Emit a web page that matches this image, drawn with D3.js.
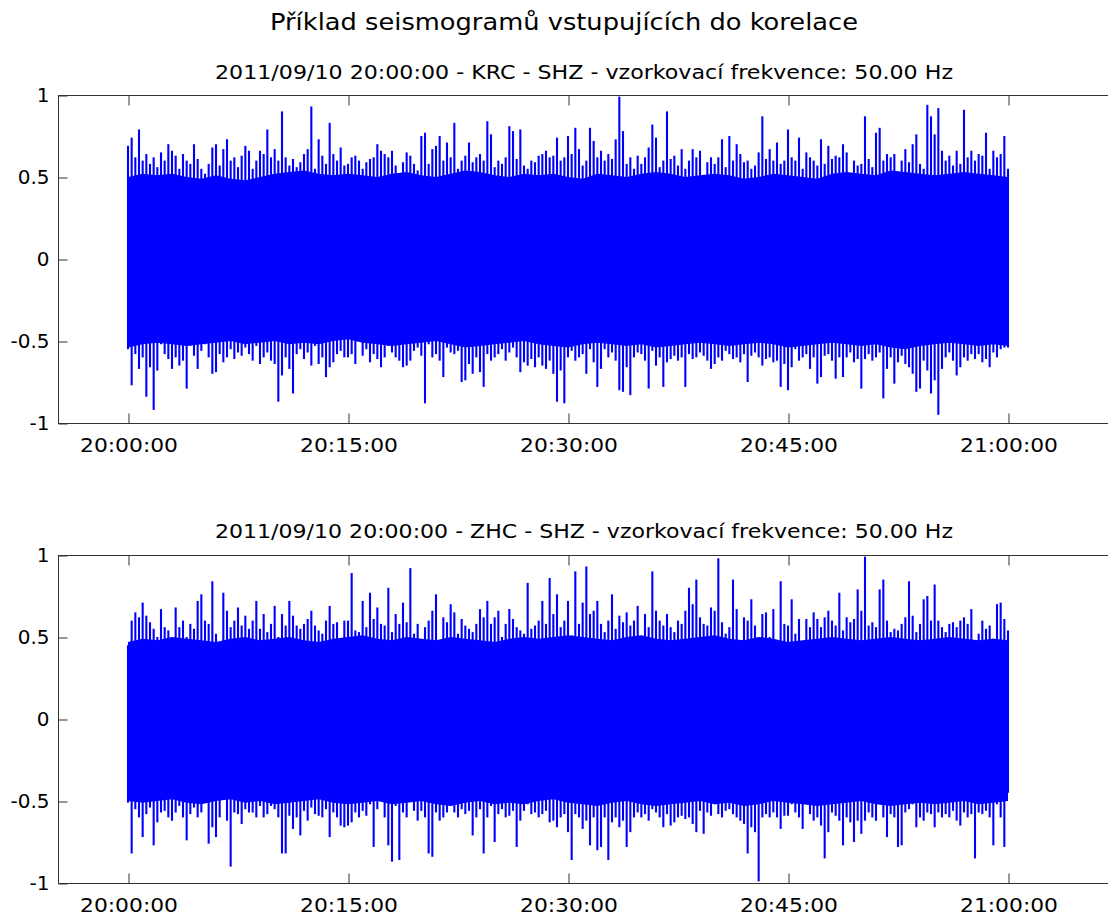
<!DOCTYPE html>
<html>
<head>
<meta charset="utf-8">
<script src="https://cdn.jsdelivr.net/npm/d3@7"></script>
<style>
  body { margin: 0; background: #fff; }
  svg { display: block; }
  text { font-family: "DejaVu Sans", Verdana, sans-serif; fill: #000; }
</style>
</head>
<body>
<svg id="chart" width="1108" height="917"></svg>
<script>
// ---- texts ----
const mainTitle = "Příklad seismogramů vstupujících do korelace";
const titleKRC = "2011/09/10 20:00:00 - KRC - SHZ - vzorkovací frekvence: 50.00 Hz";
const titleZHC = "2011/09/10 20:00:00 - ZHC - SHZ - vzorkovací frekvence: 50.00 Hz";

// ---- ticks ----
const xTickMinutes = [0, 15, 30, 45, 60];
const xTickLabels = ["20:00:00", "20:15:00", "20:30:00", "20:45:00", "21:00:00"];
const yTickValues = [1, 0.5, 0, -0.5, -1];
const yTickLabels = ["1", "0.5", "0", "-0.5", "-1"];

// ---- record timing ----
const recordStart = new Date(2011, 8, 10, 20, 0, 0);
const recordEnd = new Date(2011, 8, 10, 21, 0, 0);
const peakStepSeconds = 15;   // one peak pair per 15 s window
const coreStepSeconds = 60;   // one envelope pair per minute

// ---- KRC: per-window positive / negative peaks (normalised amplitude) ----
const krcPeakUp = [
  0.69,0.74,0.62,0.79,0.60,0.64,0.58,0.62,0.56,0.65,0.60,0.70,0.66,0.63,0.55,0.64,0.60,0.58,0.70,0.61,
  0.55,0.52,0.58,0.68,0.70,0.57,0.67,0.73,0.60,0.62,0.56,0.63,0.69,0.66,0.55,0.60,0.66,0.64,0.79,0.62,
  0.67,0.60,0.90,0.62,0.57,0.61,0.56,0.59,0.64,0.67,0.93,0.55,0.73,0.63,0.58,0.83,0.64,0.60,0.68,0.57,
  0.58,0.62,0.63,0.60,0.55,0.59,0.61,0.62,0.70,0.66,0.64,0.62,0.66,0.57,0.52,0.59,0.65,0.63,0.58,0.54,
  0.75,0.77,0.58,0.67,0.69,0.75,0.60,0.71,0.62,0.83,0.55,0.60,0.63,0.71,0.59,0.62,0.64,0.60,0.84,0.76,
  0.56,0.60,0.58,0.62,0.81,0.78,0.61,0.79,0.57,0.55,0.60,0.59,0.63,0.64,0.66,0.62,0.63,0.74,0.60,0.62,
  0.75,0.64,0.80,0.67,0.57,0.60,0.80,0.72,0.62,0.66,0.60,0.64,0.61,0.73,0.99,0.78,0.58,0.62,0.55,0.63,
  0.58,0.62,0.68,0.82,0.74,0.56,0.60,0.90,0.61,0.63,0.57,0.67,0.55,0.60,0.67,0.62,0.66,0.50,0.59,0.62,
  0.58,0.62,0.73,0.56,0.75,0.60,0.70,0.64,0.59,0.60,0.55,0.57,0.65,0.87,0.61,0.67,0.60,0.71,0.58,0.60,
  0.79,0.62,0.60,0.74,0.55,0.65,0.62,0.60,0.57,0.73,0.58,0.69,0.61,0.63,0.62,0.70,0.65,0.52,0.60,0.57,
  0.58,0.87,0.61,0.56,0.77,0.80,0.60,0.64,0.62,0.64,0.53,0.60,0.67,0.59,0.70,0.76,0.58,0.55,0.94,0.87,
  0.76,0.92,0.66,0.60,0.63,0.57,0.66,0.58,0.91,0.62,0.66,0.60,0.64,0.63,0.77,0.55,0.66,0.62,0.64,0.75,0.55
];
const krcPeakDown = [
  -0.55,-0.77,-0.58,-0.67,-0.60,-0.84,-0.66,-0.92,-0.68,-0.52,-0.58,-0.61,-0.67,-0.60,-0.65,-0.62,-0.79,-0.53,-0.59,-0.67,
  -0.56,-0.52,-0.60,-0.70,-0.69,-0.58,-0.63,-0.60,-0.55,-0.61,-0.57,-0.59,-0.54,-0.58,-0.62,-0.53,-0.64,-0.60,-0.57,-0.62,
  -0.64,-0.87,-0.71,-0.60,-0.67,-0.82,-0.58,-0.55,-0.61,-0.57,-0.65,-0.53,-0.64,-0.60,-0.72,-0.66,-0.63,-0.58,-0.56,-0.60,
  -0.60,-0.58,-0.64,-0.50,-0.59,-0.55,-0.63,-0.58,-0.61,-0.66,-0.60,-0.53,-0.57,-0.60,-0.62,-0.66,-0.65,-0.62,-0.56,-0.54,
  -0.59,-0.88,-0.52,-0.60,-0.58,-0.62,-0.72,-0.54,-0.57,-0.58,-0.56,-0.75,-0.74,-0.64,-0.70,-0.60,-0.69,-0.78,-0.58,-0.62,
  -0.60,-0.58,-0.55,-0.62,-0.57,-0.54,-0.60,-0.69,-0.63,-0.65,-0.61,-0.66,-0.60,-0.65,-0.67,-0.62,-0.70,-0.87,-0.68,-0.88,
  -0.60,-0.56,-0.62,-0.60,-0.58,-0.70,-0.55,-0.63,-0.78,-0.67,-0.55,-0.60,-0.57,-0.62,-0.80,-0.81,-0.66,-0.83,-0.60,-0.57,
  -0.58,-0.62,-0.79,-0.56,-0.65,-0.60,-0.78,-0.63,-0.61,-0.59,-0.62,-0.60,-0.78,-0.58,-0.61,-0.60,-0.57,-0.59,-0.62,-0.67,
  -0.64,-0.60,-0.62,-0.56,-0.58,-0.61,-0.60,-0.63,-0.58,-0.75,-0.59,-0.57,-0.60,-0.65,-0.61,-0.60,-0.63,-0.62,-0.78,-0.64,
  -0.80,-0.66,-0.55,-0.62,-0.60,-0.58,-0.67,-0.60,-0.76,-0.72,-0.59,-0.58,-0.62,-0.73,-0.60,-0.72,-0.60,-0.57,-0.63,-0.61,
  -0.79,-0.61,-0.58,-0.62,-0.60,-0.57,-0.85,-0.67,-0.60,-0.76,-0.63,-0.59,-0.64,-0.66,-0.70,-0.81,-0.79,-0.62,-0.68,-0.82,
  -0.74,-0.95,-0.67,-0.60,-0.57,-0.62,-0.71,-0.66,-0.60,-0.62,-0.58,-0.61,-0.58,-0.63,-0.61,-0.66,-0.57,-0.60,-0.55,-0.54,-0.54
];
// KRC: per-minute envelope of the dense background noise
const krcCoreUp = [
  0.50,0.52,0.51,0.52,0.50,0.49,0.51,0.49,0.48,0.50,0.52,0.53,0.54,0.52,0.51,0.52,0.51,0.50,0.52,0.53,
  0.51,0.50,0.52,0.54,0.53,0.51,0.50,0.52,0.51,0.52,0.50,0.49,0.52,0.51,0.50,0.52,0.53,0.52,0.50,0.51,
  0.52,0.51,0.49,0.50,0.52,0.51,0.50,0.49,0.52,0.53,0.52,0.51,0.54,0.53,0.52,0.51,0.52,0.53,0.52,0.51,0.50
];
const krcCoreDown = [
  -0.54,-0.52,-0.51,-0.52,-0.53,-0.52,-0.51,-0.50,-0.52,-0.51,-0.50,-0.52,-0.51,-0.52,-0.50,-0.49,-0.51,-0.52,-0.53,-0.52,
  -0.51,-0.50,-0.52,-0.54,-0.53,-0.52,-0.51,-0.50,-0.52,-0.53,-0.54,-0.52,-0.51,-0.52,-0.53,-0.52,-0.54,-0.53,-0.52,-0.51,
  -0.52,-0.53,-0.52,-0.51,-0.52,-0.54,-0.53,-0.52,-0.51,-0.52,-0.53,-0.52,-0.54,-0.55,-0.53,-0.52,-0.51,-0.52,-0.53,-0.52,-0.53
];

// ---- ZHC: per-window positive / negative peaks ----
const zhcPeakUp = [
  0.45,0.60,0.65,0.62,0.71,0.63,0.59,0.55,0.50,0.67,0.56,0.54,0.47,0.68,0.56,0.60,0.50,0.58,0.55,0.72,
  0.76,0.60,0.58,0.84,0.52,0.44,0.77,0.66,0.56,0.60,0.68,0.57,0.63,0.55,0.60,0.72,0.55,0.64,0.53,0.58,
  0.69,0.50,0.64,0.57,0.72,0.63,0.57,0.55,0.58,0.61,0.66,0.57,0.54,0.52,0.60,0.69,0.58,0.59,0.46,0.60,
  0.60,0.89,0.54,0.53,0.72,0.56,0.77,0.61,0.68,0.58,0.57,0.80,0.53,0.64,0.58,0.71,0.59,0.92,0.52,0.58,
  0.48,0.56,0.60,0.66,0.76,0.46,0.62,0.59,0.70,0.65,0.52,0.61,0.57,0.55,0.53,0.58,0.67,0.62,0.72,0.58,
  0.62,0.66,0.50,0.58,0.67,0.61,0.56,0.54,0.52,0.83,0.55,0.57,0.60,0.72,0.58,0.86,0.64,0.76,0.56,0.60,
  0.72,0.51,0.90,0.58,0.71,0.93,0.64,0.66,0.72,0.58,0.53,0.60,0.76,0.55,0.63,0.59,0.65,0.57,0.60,0.69,
  0.47,0.64,0.56,0.90,0.66,0.60,0.57,0.64,0.56,0.53,0.60,0.58,0.66,0.80,0.70,0.85,0.62,0.58,0.57,0.68,
  0.66,0.98,0.59,0.52,0.56,0.85,0.67,0.46,0.62,0.60,0.73,0.57,0.48,0.64,0.65,0.50,0.67,0.45,0.84,0.58,
  0.57,0.73,0.52,0.61,0.46,0.61,0.56,0.65,0.61,0.56,0.62,0.66,0.60,0.57,0.77,0.54,0.62,0.59,0.61,0.79,
  0.66,0.99,0.57,0.59,0.56,0.79,0.85,0.60,0.53,0.55,0.54,0.58,0.62,0.84,0.63,0.53,0.58,0.73,0.75,0.60,
  0.82,0.60,0.56,0.53,0.58,0.59,0.56,0.60,0.62,0.58,0.67,0.42,0.52,0.60,0.55,0.57,0.49,0.70,0.71,0.61,0.54
];
const zhcPeakDown = [
  -0.51,-0.82,-0.55,-0.60,-0.72,-0.58,-0.54,-0.77,-0.63,-0.57,-0.56,-0.60,-0.62,-0.57,-0.53,-0.60,-0.74,-0.58,-0.54,-0.60,
  -0.57,-0.50,-0.76,-0.66,-0.72,-0.60,-0.42,-0.62,-0.90,-0.57,-0.58,-0.64,-0.55,-0.57,-0.57,-0.60,-0.53,-0.60,-0.58,-0.53,
  -0.55,-0.60,-0.82,-0.82,-0.59,-0.67,-0.60,-0.71,-0.56,-0.62,-0.54,-0.58,-0.59,-0.60,-0.55,-0.72,-0.57,-0.60,-0.65,-0.66,
  -0.65,-0.63,-0.57,-0.60,-0.56,-0.59,-0.52,-0.78,-0.55,-0.40,-0.60,-0.77,-0.87,-0.53,-0.86,-0.57,-0.60,-0.45,-0.56,-0.62,
  -0.56,-0.60,-0.82,-0.84,-0.57,-0.62,-0.60,-0.57,-0.53,-0.57,-0.60,-0.55,-0.58,-0.56,-0.71,-0.60,-0.55,-0.82,-0.60,-0.53,
  -0.75,-0.58,-0.55,-0.60,-0.59,-0.56,-0.78,-0.62,-0.56,-0.52,-0.58,-0.57,-0.60,-0.58,-0.56,-0.63,-0.62,-0.66,-0.60,-0.58,
  -0.69,-0.86,-0.58,-0.60,-0.67,-0.62,-0.77,-0.60,-0.80,-0.78,-0.60,-0.86,-0.63,-0.60,-0.66,-0.62,-0.78,-0.69,-0.60,-0.57,
  -0.60,-0.58,-0.62,-0.55,-0.57,-0.60,-0.66,-0.58,-0.65,-0.63,-0.60,-0.59,-0.61,-0.60,-0.64,-0.69,-0.56,-0.70,-0.57,-0.59,
  -0.52,-0.58,-0.60,-0.56,-0.55,-0.58,-0.60,-0.62,-0.64,-0.82,-0.66,-0.69,-0.99,-0.60,-0.58,-0.60,-0.57,-0.60,-0.67,-0.59,
  -0.59,-0.52,-0.57,-0.60,-0.67,-0.46,-0.58,-0.62,-0.60,-0.65,-0.85,-0.69,-0.57,-0.59,-0.62,-0.77,-0.60,-0.63,-0.75,-0.62,
  -0.70,-0.62,-0.57,-0.60,-0.62,-0.44,-0.60,-0.72,-0.58,-0.60,-0.78,-0.77,-0.57,-0.55,-0.52,-0.66,-0.60,-0.62,-0.57,-0.58,
  -0.66,-0.57,-0.60,-0.58,-0.60,-0.56,-0.62,-0.65,-0.57,-0.60,-0.58,-0.85,-0.57,-0.58,-0.56,-0.60,-0.77,-0.52,-0.60,-0.78,-0.45
];
const zhcCoreUp = [
  0.47,0.49,0.48,0.50,0.49,0.48,0.47,0.49,0.50,0.48,0.49,0.50,0.48,0.47,0.49,0.50,0.51,0.49,0.48,0.50,
  0.49,0.48,0.50,0.49,0.48,0.47,0.49,0.50,0.49,0.50,0.51,0.50,0.49,0.48,0.50,0.51,0.49,0.48,0.49,0.50,
  0.51,0.49,0.48,0.50,0.49,0.47,0.48,0.49,0.50,0.49,0.48,0.49,0.50,0.49,0.48,0.49,0.50,0.49,0.48,0.49,0.48
];
const zhcCoreDown = [
  -0.50,-0.51,-0.50,-0.49,-0.51,-0.52,-0.50,-0.49,-0.51,-0.50,-0.52,-0.51,-0.50,-0.49,-0.51,-0.52,-0.51,-0.50,-0.52,-0.51,
  -0.50,-0.52,-0.53,-0.51,-0.50,-0.52,-0.51,-0.52,-0.50,-0.49,-0.51,-0.52,-0.53,-0.51,-0.50,-0.52,-0.53,-0.52,-0.51,-0.50,
  -0.52,-0.51,-0.53,-0.52,-0.50,-0.51,-0.52,-0.53,-0.52,-0.51,-0.50,-0.52,-0.53,-0.52,-0.51,-0.52,-0.51,-0.50,-0.52,-0.51,-0.50
];

// ---- layout ----
const frameLeft = 58, frameRight = 1110;
const traceColor = "#0000ff";
const axisColor = "#333";

const svg = d3.select("#chart");

svg.append("text")
  .attr("x", 564).attr("y", 30)
  .attr("text-anchor", "middle")
  .attr("font-size", 23)
  .attr("textLength", 588).attr("lengthAdjust", "spacingAndGlyphs")
  .text(mainTitle);

const panels = [
  { title: titleKRC, up: krcPeakUp, down: krcPeakDown, coreUp: krcCoreUp, coreDown: krcCoreDown,
    top: 95, bottom: 423, titleY: 79 },
  { title: titleZHC, up: zhcPeakUp, down: zhcPeakDown, coreUp: zhcCoreUp, coreDown: zhcCoreDown,
    top: 555, bottom: 883, titleY: 538 }
];

const x = d3.scaleTime().domain([recordStart, recordEnd]).range([128, 1008]);
const tAt = (i, step) => new Date(recordStart.getTime() + i * step * 1000);
const xTickTimes = xTickMinutes.map(m => new Date(recordStart.getTime() + m * 60000));

panels.forEach(p => {
  const g = svg.append("g");
  const y = d3.scaleLinear().domain([-1, 1]).range([p.bottom, p.top]);

  // panel title
  g.append("text")
    .attr("x", 584).attr("y", p.titleY)
    .attr("text-anchor", "middle")
    .attr("font-size", 20)
    .attr("textLength", 738).attr("lengthAdjust", "spacingAndGlyphs")
    .text(p.title);

  // dense background noise band
  const area = d3.area()
    .x((d, i) => x(tAt(i, coreStepSeconds)))
    .y0((d, i) => y(p.coreDown[i]))
    .y1(d => y(d));
  g.append("path")
    .datum(p.coreUp)
    .attr("d", area)
    .attr("fill", traceColor);

  // individual peaks above and below zero
  const peaks = g.append("g")
    .attr("stroke", traceColor)
    .attr("stroke-width", 2.1);
  [p.up, p.down].forEach(series => {
    peaks.selectAll(null)
      .data(series)
      .join("line")
      .attr("x1", (d, i) => x(tAt(i, peakStepSeconds)))
      .attr("x2", (d, i) => x(tAt(i, peakStepSeconds)))
      .attr("y1", y(0))
      .attr("y2", d => y(d));
  });

  // frame (right side runs past the page edge)
  const frame = g.append("g").attr("stroke", axisColor).attr("stroke-width", 1).attr("fill", "none");
  frame.append("line").attr("x1", frameLeft).attr("x2", frameRight)
    .attr("y1", p.top + 0.5).attr("y2", p.top + 0.5);
  frame.append("line").attr("x1", frameLeft).attr("x2", frameRight)
    .attr("y1", p.bottom + 0.5).attr("y2", p.bottom + 0.5);
  frame.append("line").attr("x1", frameLeft + 0.5).attr("x2", frameLeft + 0.5)
    .attr("y1", p.top).attr("y2", p.bottom + 1);

  // bottom axis with labels, ticks pointing inward
  const xAxis = g.append("g")
    .attr("transform", `translate(0.5,${p.bottom + 0.5})`)
    .call(d3.axisBottom(x)
      .tickValues(xTickTimes)
      .tickFormat((d, i) => xTickLabels[i])
      .tickSize(-10).tickSizeOuter(0).tickPadding(14));
  xAxis.select(".domain").remove();
  xAxis.selectAll(".tick line").attr("stroke", axisColor);
  xAxis.selectAll(".tick text")
    .attr("font-size", 20)
    .attr("font-family", "DejaVu Sans, Verdana, sans-serif")
    .attr("fill", "#000")
    .attr("textLength", 98).attr("lengthAdjust", "spacingAndGlyphs");

  // top axis: ticks only
  const xTop = g.append("g")
    .attr("transform", `translate(0.5,${p.top + 0.5})`)
    .call(d3.axisTop(x).tickValues(xTickTimes).tickFormat("").tickSize(-10).tickSizeOuter(0));
  xTop.select(".domain").remove();
  xTop.selectAll(".tick line").attr("stroke", axisColor);

  // left axis
  const yAxis = g.append("g")
    .attr("transform", `translate(${frameLeft + 0.5},0.5)`)
    .call(d3.axisLeft(y)
      .tickValues(yTickValues)
      .tickFormat((d, i) => yTickLabels[i])
      .tickSize(-9).tickSizeOuter(0).tickPadding(9));
  yAxis.select(".domain").remove();
  yAxis.selectAll(".tick line").attr("stroke", axisColor);
  yAxis.selectAll(".tick text")
    .attr("font-size", 20)
    .attr("font-family", "DejaVu Sans, Verdana, sans-serif")
    .attr("fill", "#000");
});
</script>
</body>
</html>
